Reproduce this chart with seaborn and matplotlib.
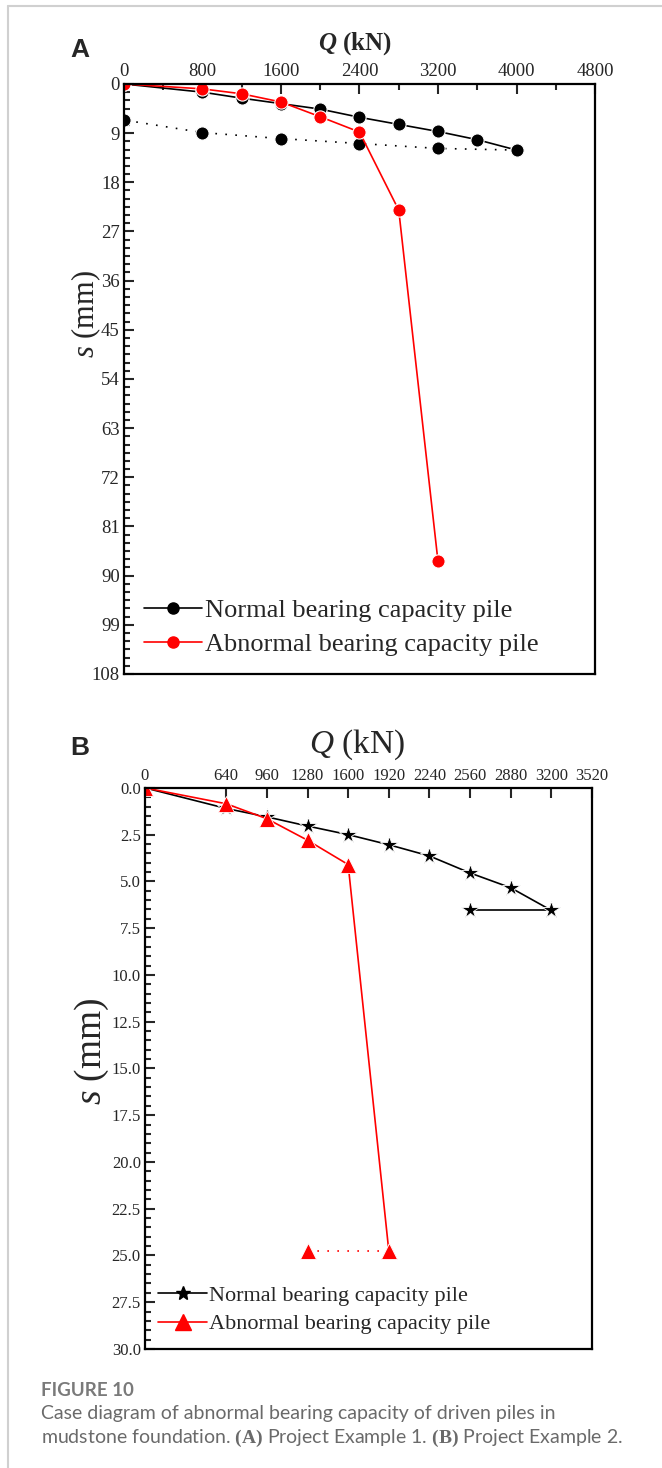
import matplotlib.pyplot as plt
import seaborn as sns
from matplotlib.lines import Line2D
from matplotlib.ticker import MultipleLocator, FixedLocator

# Panel A: project example 1
a_normal_q = [0, 800, 1200, 1600, 2000, 2400, 2800, 3200, 3600, 4000]
a_normal_s = [0, 1.5, 2.6, 3.6, 4.6, 6.1, 7.4, 8.7, 10.2, 12.1]
a_unload_q = [4000, 3200, 2400, 1600, 800, 0]
a_unload_s = [12.1, 11.8, 10.9, 10.0, 8.9, 6.6]
a_abnormal_q = [0, 800, 1200, 1600, 2000, 2400, 2800, 3200]
a_abnormal_s = [0, 0.9, 1.8, 3.3, 6.0, 8.8, 23.1, 87.4]

# Panel B: project example 2
b_normal_q = [0, 640, 960, 1280, 1600, 1920, 2240, 2560, 2880, 3200]
b_normal_s = [0, 1.1, 1.55, 2.04, 2.5, 3.04, 3.64, 4.55, 5.34, 6.55]
b_unload_q = [3200, 2560]
b_unload_s = [6.55, 6.55]
b_abnormal_q = [0, 640, 960, 1280, 1600, 1920]
b_abnormal_s = [0, 0.85, 1.65, 2.8, 4.1, 24.75]
b_ab_unload_q = [1920, 1280]
b_ab_unload_s = [24.75, 24.75]

a_xticks = [0, 800, 1600, 2400, 3200, 4000, 4800]
a_yticks = [0, 9, 18, 27, 36, 45, 54, 63, 72, 81, 90, 99, 108]
b_xticks = [0, 640, 960, 1280, 1600, 1920, 2240, 2560, 2880, 3200, 3520]
b_yticks = [0, 2.5, 5, 7.5, 10, 12.5, 15, 17.5, 20, 22.5, 25, 27.5, 30]

labels = ["Normal bearing capacity pile", "Abnormal bearing capacity pile"]

sns.set_style("ticks")
plt.rcParams["font.family"] = ["Liberation Serif", "DejaVu Serif"]
plt.rcParams["mathtext.fontset"] = "custom"
plt.rcParams["mathtext.rm"] = "Liberation Serif"
plt.rcParams["mathtext.it"] = "Liberation Serif:italic"
plt.rcParams["mathtext.bf"] = "Liberation Serif:bold"
plt.rcParams["mathtext.bfit"] = "Liberation Serif:bold:italic"

fig = plt.figure(figsize=(6.62, 14.68), dpi=100)
axA = fig.add_axes([0.1873, 0.5409, 0.7115, 0.4019])
axB = fig.add_axes([0.219, 0.0811, 0.6752, 0.3822])

lw = 1.2


def style_axis(ax, xlim, ylim, xticks, yticks, yminor, xminor, fs):
    ax.set_xlim(*xlim)
    ax.set_ylim(*ylim)
    ax.xaxis.tick_top()
    ax.xaxis.set_label_position("top")
    ax.xaxis.set_major_locator(FixedLocator(xticks))
    ax.yaxis.set_major_locator(FixedLocator(yticks))
    ax.yaxis.set_minor_locator(MultipleLocator(yminor))
    if xminor:
        ax.xaxis.set_minor_locator(MultipleLocator(xminor))
    ax.tick_params(which="both", direction="in", width=1.5, labelsize=fs,
                   top=True, bottom=False, left=True, right=False)
    ax.tick_params(which="major", length=7, pad=3)
    ax.tick_params(which="minor", length=4)
    for sp in ax.spines.values():
        sp.set_linewidth(1.6)
        sp.set_color("black")


# ---- Panel A
kw_a = dict(marker="o", markersize=9.5, markeredgecolor="white", markeredgewidth=0.8,
            linewidth=lw, sort=False, legend=False, estimator=None)
sns.lineplot(x=a_normal_q, y=a_normal_s, color="black", ax=axA, **kw_a)
sns.lineplot(x=a_unload_q, y=a_unload_s, color="black", ax=axA, linestyle=(0, (1, 5)), **kw_a)
sns.lineplot(x=a_abnormal_q, y=a_abnormal_s, color="red", ax=axA, **kw_a)
style_axis(axA, (0, 4800), (108, 0), a_xticks, a_yticks, 1.5, 400, 13.5)
axA.set_xlabel(r"$\mathbfit{Q}$ (kN)", fontsize=18, fontweight="bold")
axA.xaxis.set_label_coords(0.49, 1.058)
axA.set_ylabel(r"$s$ (mm)", fontsize=22)
axA.yaxis.set_label_coords(-0.045, 0.61)
hA = [Line2D([], [], color="black", marker="o", markersize=8, lw=lw),
      Line2D([], [], color="red", marker="o", markersize=8, lw=lw)]
axA.legend(hA, labels, loc="lower left", bbox_to_anchor=(0.02, 0.012), frameon=False,
           fontsize=19, handlelength=2.2, handletextpad=0.1, labelspacing=0.4,
           borderaxespad=0)

# ---- Panel B
kw_b = dict(linewidth=lw, sort=False, legend=False, estimator=None)
sns.lineplot(x=b_normal_q, y=b_normal_s, color="black", ax=axB, marker="*", markersize=13,
             markeredgecolor="white", markeredgewidth=0.6, **kw_b)
sns.lineplot(x=b_unload_q, y=b_unload_s, color="black", ax=axB, marker="*", markersize=13,
             markeredgecolor="white", markeredgewidth=0.6, **kw_b)
sns.lineplot(x=b_abnormal_q, y=b_abnormal_s, color="red", ax=axB, marker="^", markersize=11,
             markeredgecolor="white", markeredgewidth=0.6, **kw_b)
sns.lineplot(x=b_ab_unload_q, y=b_ab_unload_s, color="red", ax=axB, marker="^", markersize=11,
             markeredgecolor="white", markeredgewidth=0.6, linestyle=(0, (1, 5)), **kw_b)
style_axis(axB, (0, 3520), (30, 0), b_xticks, b_yticks, 0.5, None, 12)
axB.set_yticklabels([f"{v:.1f}" for v in b_yticks])
axB.set_xlabel(r"$Q$ (kN)", fontsize=24)
axB.xaxis.set_label_coords(0.475, 1.062)
axB.set_ylabel(r"$s$ (mm)", fontsize=27)
axB.yaxis.set_label_coords(-0.075, 0.53)
hB = [Line2D([], [], color="black", marker="*", markersize=10, lw=lw),
      Line2D([], [], color="red", marker="^", markersize=11, lw=lw)]
axB.legend(hB, labels, loc="lower left", bbox_to_anchor=(0.01, 0.01), frameon=False,
           fontsize=16, handlelength=2.2, handletextpad=0.1, labelspacing=0.35,
           borderaxespad=0)

# panel letters
fig.text(80 / 662, 1 - 50 / 1468, "A", fontsize=19, fontweight="bold",
         family=["Liberation Sans"], ha="center", va="center")
fig.text(80 / 662, 1 - 748 / 1468, "B", fontsize=19, fontweight="bold",
         family=["Liberation Sans"], ha="center", va="center")

# caption
fig.text(41 / 662, 1 - 1390 / 1468, "FIGURE 10", fontsize=13.5, fontweight="bold",
         color="#7a7a7a", family=["Lato", "DejaVu Sans"], va="center")
fig.text(41 / 662, 1 - 1414 / 1468,
         "Case diagram of abnormal bearing capacity of driven piles in",
         fontsize=14, color="#6a6a6a", family=["Lato", "DejaVu Sans"], va="center")
fig.text(41 / 662, 1 - 1438 / 1468,
         r"mudstone foundation. $\mathbf{(A)}$ Project Example 1. $\mathbf{(B)}$ Project Example 2.",
         fontsize=14, color="#6a6a6a", family=["Lato", "DejaVu Sans"], va="center")

# light page border
fig.add_artist(Line2D([8 / 662, 8 / 662], [0, 1 - 6 / 1468], color="#d0d0d0", lw=1.5,
                      transform=fig.transFigure))
fig.add_artist(Line2D([8 / 662, 1], [1 - 6 / 1468, 1 - 6 / 1468], color="#d0d0d0", lw=1.5,
                      transform=fig.transFigure))

fig.savefig("out.png", dpi=100)
